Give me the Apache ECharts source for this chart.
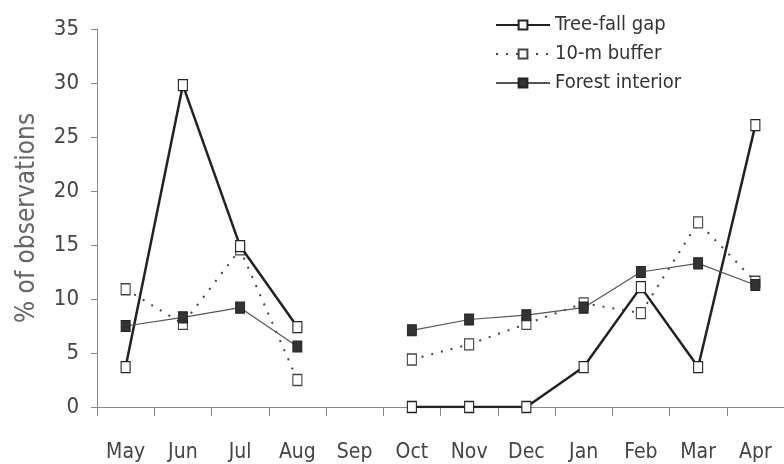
<!DOCTYPE html>
<html>
<head>
<meta charset="utf-8">
<style>
  html, body { margin: 0; padding: 0; background: #fff; }
  #chart { width: 784px; height: 464px; }
</style>
<script src="https://cdn.jsdelivr.net/npm/echarts@6/dist/echarts.min.js"></script>
</head>
<body>
<div id="chart"></div>
<script>
var months = ['May', 'Jun', 'Jul', 'Aug', 'Sep', 'Oct', 'Nov', 'Dec', 'Jan', 'Feb', 'Mar', 'Apr'];
var treeFallGap = [3.7, 29.8, 14.9, 7.4, null, 0, 0, 0, 3.7, 11.1, 3.7, 26.1];
var buffer10m = [10.9, 7.7, 14.6, 2.5, null, 4.4, 5.8, 7.7, 9.6, 8.7, 17.1, 11.6];
var forestInterior = [7.5, 8.3, 9.2, 5.6, null, 7.1, 8.1, 8.5, 9.2, 12.5, 13.3, 11.3];
var yTicks = { min: 0, max: 35, interval: 5 };

var font = '"DejaVu Sans Condensed", "Liberation Sans", Arial, sans-serif';
var textColor = '#444';
var axisColor = '#888';

var chart = echarts.init(document.getElementById('chart'), null, { renderer: 'canvas' });
chart.setOption({
  animation: false,
  backgroundColor: '#fff',
  grid: { left: 97, right: 0, top: 29, bottom: 57 },
  legend: {
    orient: 'vertical',
    left: 490,
    top: 10,
    itemGap: 9,
    itemWidth: 54,
    itemHeight: 11,
    textStyle: { fontFamily: font, fontSize: 20, color: '#333' },
    data: ['Tree-fall gap', '10-m buffer', 'Forest interior']
  },
  xAxis: {
    type: 'category',
    data: months,
    boundaryGap: true,
    axisLine: { lineStyle: { color: axisColor, width: 1 } },
    axisTick: { show: true, length: 9, lineStyle: { color: axisColor } },
    axisLabel: { color: textColor, fontFamily: font, fontSize: 21, margin: 35 }
  },
  yAxis: {
    type: 'value',
    min: yTicks.min,
    max: yTicks.max,
    interval: yTicks.interval,
    name: '% of observations',
    nameLocation: 'middle',
    nameGap: 57,
    nameTextStyle: { color: '#666', fontFamily: font, fontSize: 26 },
    axisLine: { show: true, lineStyle: { color: axisColor, width: 1 } },
    axisTick: { show: true, length: 6, lineStyle: { color: axisColor } },
    axisLabel: { color: textColor, fontFamily: font, fontSize: 22, margin: 18 },
    splitLine: { show: false }
  },
  series: [
    {
      name: 'Tree-fall gap',
      type: 'line',
      data: treeFallGap,
      connectNulls: false,
      symbol: 'rect',
      symbolSize: [9, 11],
      lineStyle: { color: '#222', width: 2.5 },
      itemStyle: { color: '#fff', borderColor: '#222', borderWidth: 1.2 },
      z: 3
    },
    {
      name: '10-m buffer',
      type: 'line',
      data: buffer10m,
      connectNulls: false,
      symbol: 'rect',
      symbolSize: [9, 11],
      lineStyle: { color: '#444', width: 2, type: [2, 8] },
      itemStyle: { color: '#fff', borderColor: '#444', borderWidth: 1.2 },
      z: 2
    },
    {
      name: 'Forest interior',
      type: 'line',
      data: forestInterior,
      connectNulls: false,
      symbol: 'rect',
      symbolSize: [9, 11],
      lineStyle: { color: '#555', width: 1.2 },
      itemStyle: { color: '#333', borderColor: '#222', borderWidth: 1 },
      z: 4
    }
  ]
});
window.addEventListener('resize', function() { chart.resize(); });
</script>
</body>
</html>
